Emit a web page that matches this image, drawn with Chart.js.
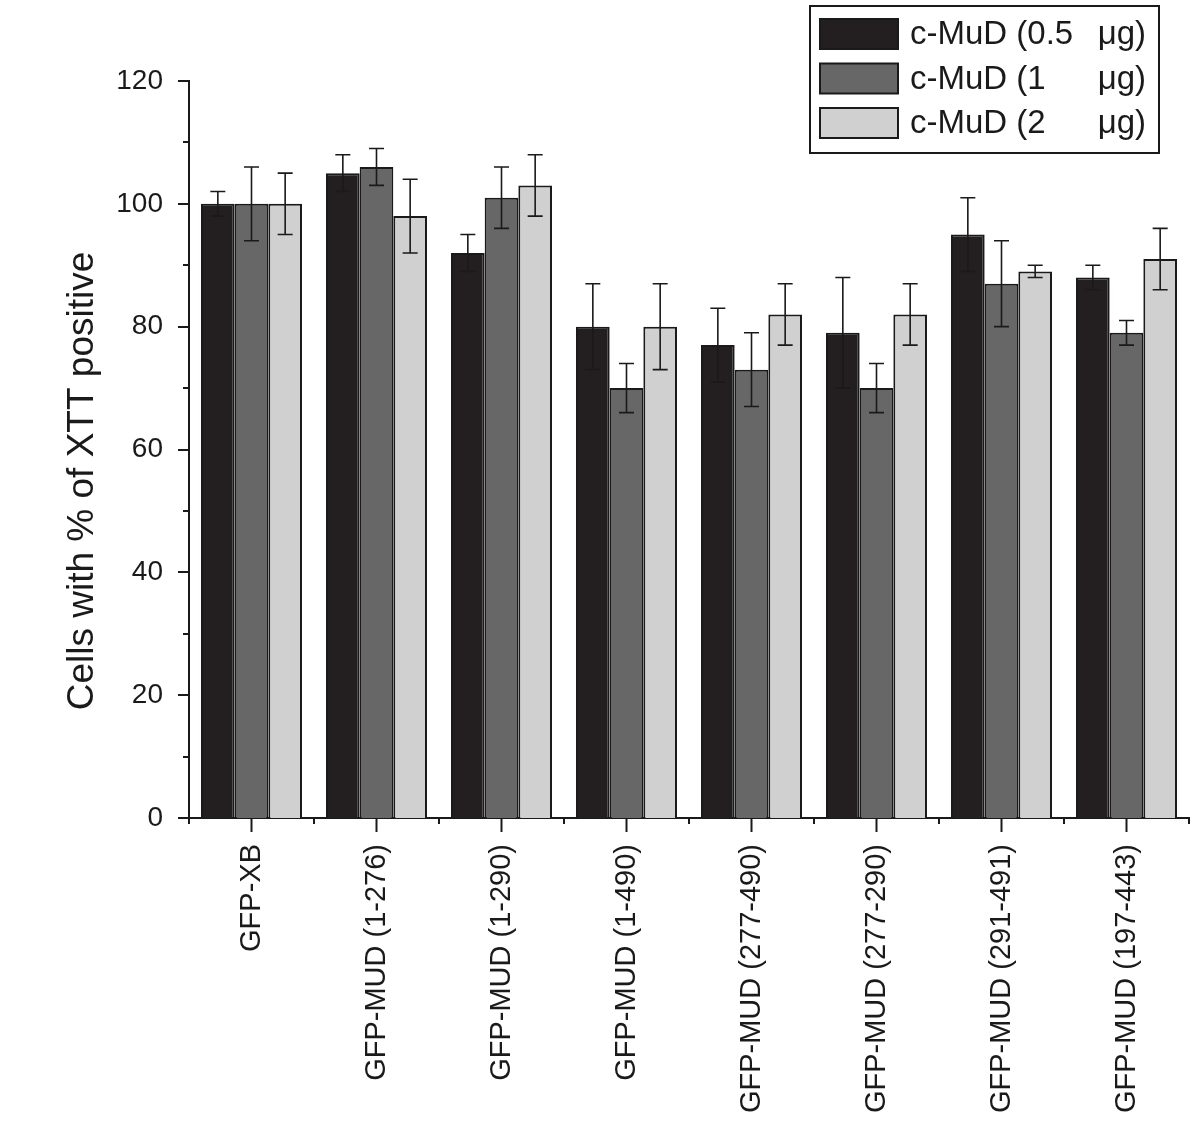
<!DOCTYPE html>
<html>
<head>
<meta charset="utf-8">
<script src="https://cdn.jsdelivr.net/npm/chart.js@4"></script>
<style>
html,body{margin:0;padding:0;background:#fff;}
#wrap{width:1203px;height:1128px;position:relative;}
</style>
</head>
<body>
<div id="wrap"><canvas id="c" width="1203" height="1128"></canvas></div>
<script>
const categories = ["GFP-XB","GFP-MUD (1-276)","GFP-MUD (1-290)","GFP-MUD (1-490)","GFP-MUD (277-490)","GFP-MUD (277-290)","GFP-MUD (291-491)","GFP-MUD (197-443)"];
const seriesNames = ["c-MuD (0.5 μg)","c-MuD (1    μg)","c-MuD (2    μg)"];
const yTitle = "Cells with % of XTT positive";
const dose05 = [100,105,92,80,77,79,95,88];
const dose1  = [100,106,101,70,73,70,87,79];
const dose2  = [100,98,103,80,82,82,89,91];
const err05 = [2,3,3,7,6,9,6,2];
const err1  = [6,3,5,4,6,4,7,2];
const err2  = [5,6,5,7,5,5,1,5];
const yTicks = [0,20,40,60,80,100,120];
const colors = ["#231f20","#676767","#d0d0d0"];
const FONT = "'Liberation Sans', Arial, Helvetica, sans-serif";

const errs = [err05, err1, err2];

const errorBars = {
  id:'errorBars',
  afterDatasetsDraw(chart){
    const ctx = chart.ctx, ys = chart.scales.y;
    ctx.save();
    ctx.strokeStyle = '#1a1a1a';
    ctx.lineWidth = 1.6;
    chart.data.datasets.forEach((ds, di) => {
      const meta = chart.getDatasetMeta(di);
      meta.data.forEach((bar, i) => {
        const v = ds.data[i], e = errs[di][i];
        const x = bar.x;
        const yt = ys.getPixelForValue(v + e), yb = ys.getPixelForValue(v - e);
        ctx.beginPath();
        ctx.moveTo(x, yt); ctx.lineTo(x, yb);
        ctx.moveTo(x - 7.5, yt); ctx.lineTo(x + 7.5, yt);
        ctx.moveTo(x - 7.5, yb); ctx.lineTo(x + 7.5, yb);
        ctx.stroke();
      });
    });
    ctx.restore();
  }
};

const axesTicks = {
  id:'axesTicks',
  afterDraw(chart){
    const ctx = chart.ctx, ys = chart.scales.y, xs = chart.scales.x;
    const ca = chart.chartArea;
    ctx.save();
    ctx.strokeStyle = '#1a1a1a';
    ctx.lineWidth = 2;
    for (let v = 0; v <= 120; v += 10) {
      const y = Math.round(ys.getPixelForValue(v));
      const len = (v % 20 === 0) ? 11 : 6;
      ctx.beginPath(); ctx.moveTo(ca.left - len, y); ctx.lineTo(ca.left, y); ctx.stroke();
    }
    const n = categories.length;
    const w = (ca.right - ca.left) / n;
    for (let i = 0; i <= n; i++) {
      const x = ca.left + i * w;
      ctx.beginPath(); ctx.moveTo(x, ca.bottom); ctx.lineTo(x, ca.bottom + 6); ctx.stroke();
    }
    for (let i = 0; i < n; i++) {
      const x = xs.getPixelForValue(i);
      ctx.beginPath(); ctx.moveTo(x, ca.bottom); ctx.lineTo(x, ca.bottom + 14); ctx.stroke();
    }
    // y-axis title
    ctx.save();
    ctx.translate(83, 481);
    ctx.rotate(-Math.PI / 2);
    ctx.font = "37px " + FONT;
    ctx.fillStyle = '#1a1a1a';
    ctx.textAlign = 'center';
    ctx.textBaseline = 'middle';
    ctx.fillText(yTitle, 0, 0);
    ctx.restore();
    ctx.restore();
  }
};

const boxLegend = {
  id:'boxLegend',
  afterDraw(chart){
    const ctx = chart.ctx;
    ctx.save();
    ctx.lineWidth = 2;
    ctx.strokeStyle = '#1a1a1a';
    ctx.strokeRect(810, 6, 349, 147);
    ctx.font = "33px " + FONT;
    ctx.textBaseline = 'middle';
    chart.data.datasets.forEach((ds, i) => {
      const yTop = 19 + i * 44.5;
      ctx.fillStyle = ds.backgroundColor;
      ctx.fillRect(820, yTop, 78, 30);
      ctx.strokeStyle = '#1a1a1a';
      ctx.lineWidth = 2;
      ctx.strokeRect(820, yTop, 78, 30);
      ctx.fillStyle = '#1a1a1a';
      const parts = ds.label.split('μg');
      const pre = parts[0].trimEnd();
      ctx.textAlign = 'left';
      ctx.fillText(pre, 910, yTop + 16);
      ctx.textAlign = 'right';
      ctx.fillText('μg' + parts[1], 1146, yTop + 16);
    });
    ctx.restore();
  }
};

new Chart(document.getElementById('c'), {
  type:'bar',
  data:{
    labels: categories,
    datasets: [dose05, dose1, dose2].map((d, i) => ({
      label: seriesNames[i],
      data: d,
      backgroundColor: colors[i],
      borderColor: '#1a1a1a',
      borderWidth: 2,
      categoryPercentage: 0.808,
      barPercentage: 1.0
    }))
  },
  options:{
    responsive:false,
    animation:false,
    layout:{padding:{left:0, top:81, right:14, bottom:0}},
    plugins:{legend:{display:false}, tooltip:{enabled:false}},
    scales:{
      x:{
        grid:{display:false, drawTicks:false},
        border:{display:true, color:'#1a1a1a', width:2},
        ticks:{color:'#1a1a1a', font:{family:FONT, size:29}, maxRotation:90, minRotation:90, padding:26, autoSkip:false},
        afterFit(s){ s.height = 310; }
      },
      y:{
        min:0, max:120,
        grid:{display:false, drawTicks:false},
        border:{display:true, color:'#1a1a1a', width:2},
        afterBuildTicks(s){ s.ticks = yTicks.map(v => ({value:v})); },
        ticks:{color:'#1a1a1a', font:{family:FONT, size:28}, padding:26},
        title:{display:false},
        afterFit(s){ s.width = 189; }
      }
    }
  },
  plugins:[errorBars, axesTicks, boxLegend]
});
</script>
</body>
</html>
